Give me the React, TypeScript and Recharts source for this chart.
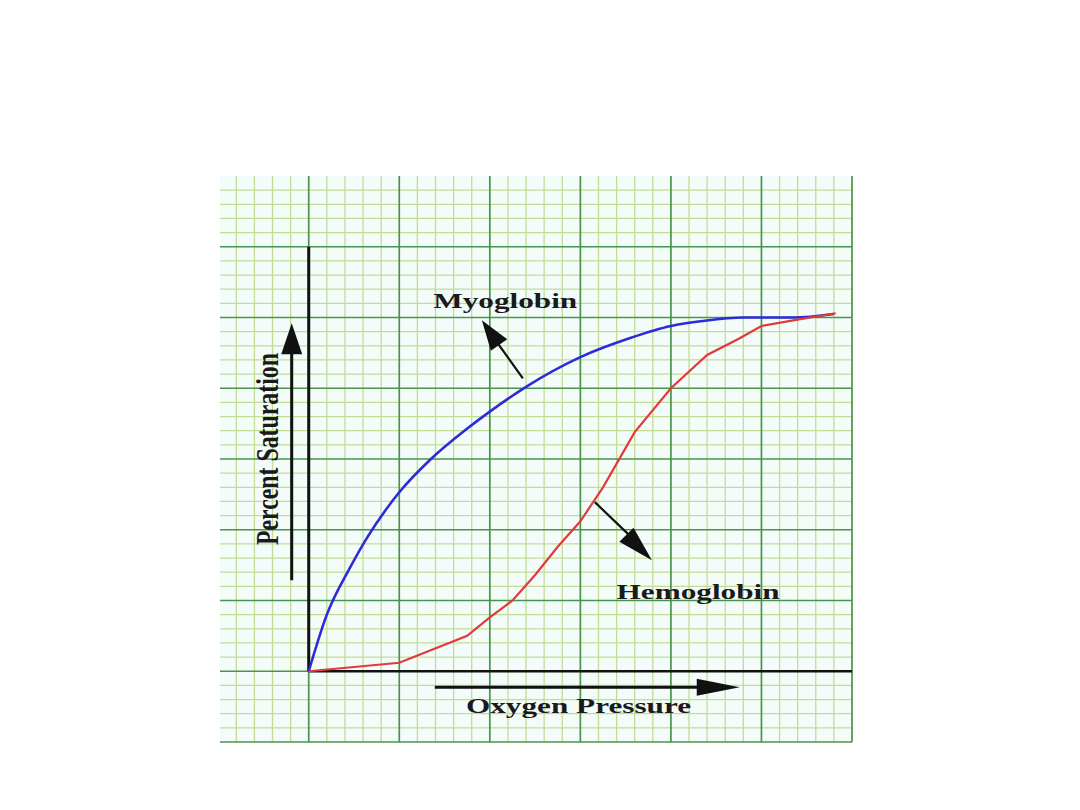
import React from 'react';
import { LineChart, Line, XAxis, YAxis, CartesianGrid, ReferenceLine, ReferenceDot } from 'recharts';

// curves (1 unit = one major square)
const myoX = [0, 0.2, 0.45, 0.65, 0.85, 1.0, 1.35, 1.75, 2.0, 2.4, 3.0, 3.55, 4.0, 4.35, 4.8, 5.35, 5.8];
const myoY = [0, 0.8, 1.45, 1.9, 2.28, 2.53, 3.0, 3.43, 3.67, 4.02, 4.44, 4.71, 4.88, 4.95, 5.0, 5.0, 5.05];
const hemoX = [0, 1.0, 1.75, 2.0, 2.25, 2.5, 2.75, 3.0, 3.25, 3.6, 4.0, 4.4, 4.75, 5.0, 5.35, 5.82];
const hemoY = [0, 0.12, 0.5, 0.76, 1.0, 1.36, 1.76, 2.12, 2.6, 3.38, 4.0, 4.47, 4.7, 4.88, 4.96, 5.06];

const labels = ['Myoglobin', 'Hemoglobin', 'Oxygen Pressure', 'Percent Saturation'];

const myoData = myoX.map((x, i) => ({ x, y: myoY[i] }));
const hemoData = hemoX.map((x, i) => ({ x, y: hemoY[i] }));

const X_MIN = -0.98;
const X_MAX = 6;
const Y_MIN = -1;
const Y_MAX = 7;

// graph paper lines
const majorX = [0, 1, 2, 3, 4, 5, 6];
const majorY = [-1, 0, 1, 2, 3, 4, 5, 6];
const minorX: number[] = [];
for (let i = -4; i < 30; i++) if (i % 5 !== 0) minorX.push(i / 5);
const minorY: number[] = [];
for (let i = -4; i < 35; i++) if (i % 5 !== 0) minorY.push(i / 5);

const toPxX = (offset: any, v: number) => offset.left + ((v - X_MIN) / (X_MAX - X_MIN)) * offset.width;
const toPxY = (offset: any, v: number) => offset.top + ((Y_MAX - v) / (Y_MAX - Y_MIN)) * offset.height;

const FONT = '"Liberation Serif", "DejaVu Serif", serif';
const STRETCH = 1.42;

function arrowHead(angle: number, len: number, half: number) {
  return (props: any) => {
    const { cx, cy } = props;
    return (
      <polygon
        points={`0,0 ${-len},${-half} ${-len},${half}`}
        transform={`translate(${cx},${cy}) rotate(${angle})`}
        fill="#111"
      />
    );
  };
}

function label(text: string, rotated = false) {
  return (props: any) => {
    const { cx, cy } = props;
    if (rotated) {
      return (
        <text
          transform={`translate(${cx},${cy}) scale(${STRETCH},1) rotate(-90)`}
          textAnchor="middle"
          textLength={192}
          lengthAdjust="spacingAndGlyphs"
          fontFamily={FONT}
          fontWeight="bold"
          fontSize={22}
          fill="#1a1a1a"
        >
          {text}
        </text>
      );
    }
    return (
      <text
        transform={`translate(${cx},${cy}) scale(${STRETCH},1)`}
        textAnchor="middle"
        fontFamily={FONT}
        fontWeight="bold"
        fontSize={22}
        fill="#1a1a1a"
      >
        {text}
      </text>
    );
  };
}

export default function App() {
  return (
    <div style={{ position: 'absolute', left: 0, top: 0, background: '#fff' }}>
      <LineChart width={1080} height={810} margin={{ top: 176, left: 220, right: 228, bottom: 68 }}>
        <XAxis type="number" dataKey="x" domain={[X_MIN, X_MAX]} hide allowDataOverflow />
        <YAxis type="number" dataKey="y" domain={[Y_MIN, Y_MAX]} hide allowDataOverflow />
        <CartesianGrid
          fill="#f3fcf9"
          fillOpacity={1}
          stroke="#c2dc98"
          strokeWidth={1.3}
          verticalCoordinatesGenerator={({ offset }: any) => minorX.map((v) => toPxX(offset, v))}
          horizontalCoordinatesGenerator={({ offset }: any) => minorY.map((v) => toPxY(offset, v))}
        />
        <CartesianGrid
          stroke="#47944a"
          strokeWidth={1.7}
          verticalCoordinatesGenerator={({ offset }: any) => majorX.map((v) => toPxX(offset, v))}
          horizontalCoordinatesGenerator={({ offset }: any) => majorY.map((v) => toPxY(offset, v))}
        />

        {/* axes */}
        <ReferenceLine segment={[{ x: 0, y: 0 }, { x: 0, y: 6 }]} stroke="#111" strokeWidth={3} />
        <ReferenceLine segment={[{ x: 0, y: 0 }, { x: 6, y: 0 }]} stroke="#111" strokeWidth={2.6} />

        {/* axis arrows */}
        <ReferenceLine segment={[{ x: -0.188, y: 1.286 }, { x: -0.188, y: 4.6 }]} stroke="#111" strokeWidth={3} />
        <ReferenceDot x={-0.188} y={4.92} r={1} shape={arrowHead(-90, 31, 10.5)} />
        <ReferenceLine segment={[{ x: 1.392, y: -0.226 }, { x: 4.4, y: -0.226 }]} stroke="#111" strokeWidth={3} />
        <ReferenceDot x={4.76} y={-0.226} r={1} shape={arrowHead(0, 43, 8.5)} />

        {/* pointer arrows */}
        <ReferenceLine segment={[{ x: 2.365, y: 4.14 }, { x: 2.05, y: 4.7 }]} stroke="#111" strokeWidth={2.2} />
        <ReferenceDot x={1.912} y={4.96} r={1} shape={arrowHead(-125, 30, 10)} />
        <ReferenceLine segment={[{ x: 3.16, y: 2.39 }, { x: 3.6, y: 1.85 }]} stroke="#111" strokeWidth={2.2} />
        <ReferenceDot x={3.79} y={1.57} r={1} shape={arrowHead(45, 36, 10)} />

        {/* labels */}
        <ReferenceDot x={2.17} y={5.13} r={1} shape={label(labels[0])} />
        <ReferenceDot x={4.3} y={1.02} r={1} shape={label(labels[1])} />
        <ReferenceDot x={2.98} y={-0.594} r={1} shape={label(labels[2])} />
        <ReferenceDot x={-0.343} y={3.14} r={1} shape={label(labels[3], true)} />

        <Line
          data={myoData}
          dataKey="y"
          type="monotone"
          stroke="#2b2bd8"
          strokeWidth={2.6}
          dot={false}
          isAnimationActive={false}
        />
        <Line
          data={hemoData}
          dataKey="y"
          type="linear"
          stroke="#e23a3c"
          strokeWidth={2.2}
          dot={false}
          isAnimationActive={false}
        />
      </LineChart>
    </div>
  );
}
